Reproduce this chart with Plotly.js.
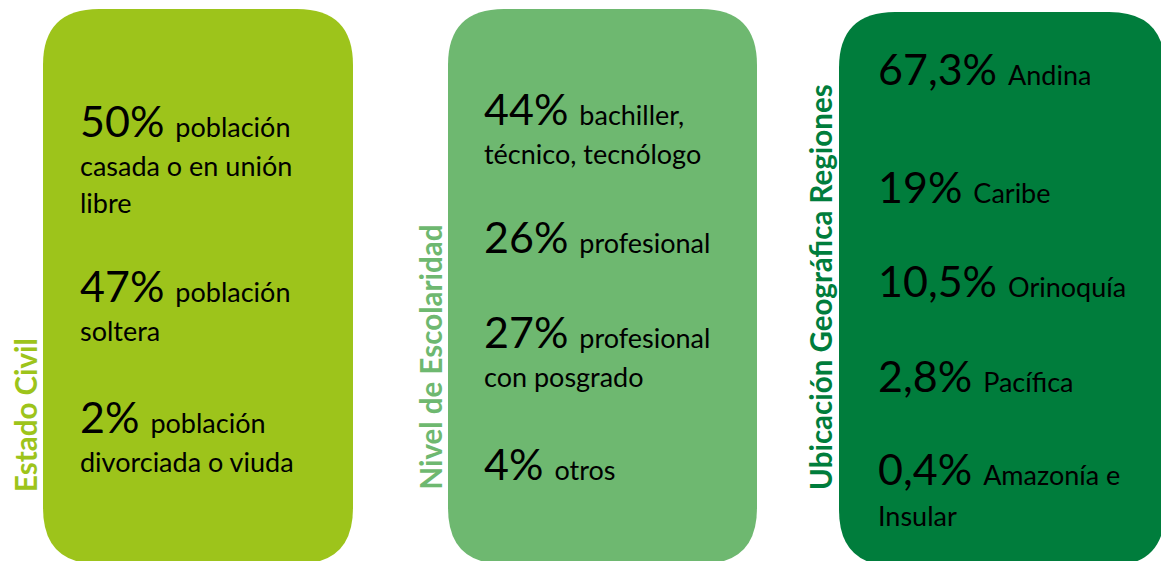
<!DOCTYPE html>
<html>
<head>
<meta charset="utf-8">
<script src="https://cdn.plot.ly/plotly-3.0.1.min.js"></script>
<style>html,body{margin:0;padding:0;background:#fff;}#chart{width:1161px;height:561px;}</style>
</head>
<body>
<div id="chart"></div>
<script>
// ---- DATA ----
const panelTitles = ['Estado Civil', 'Nivel de Escolaridad', 'Ubicación Geográfica Regiones'];

const civilPct = ['50%', '47%', '2%'];
const civilLines = [['población', 'casada o en unión', 'libre'], ['población', 'soltera'], ['población', 'divorciada o viuda']];

const escolaridadPct = ['44%', '26%', '27%', '4%'];
const escolaridadLines = [['bachiller,', 'técnico, tecnólogo'], ['profesional'], ['profesional', 'con posgrado'], ['otros']];

const regionPct = ['67,3%', '19%', '10,5%', '2,8%', '0,4%'];
const regionLines = [['Andina'], ['Caribe'], ['Orinoquía'], ['Pacífica'], ['Amazonía e', 'Insular']];

// ---- LAYOUT / STYLE ----
const W = 1161, H = 561;
const FONT = 'Lato, "Open Sans", sans-serif';
const BIG = 43, SMALL = 27, TITLE = 29.5;
const colors = ['#9DC41B', '#6EB870', '#007D3C'];
const boxes = [
  {x0: 43, x1: 353, y0: 9, y1: 564, r: 56},
  {x0: 448, x1: 757, y0: 9, y1: 564, r: 56},
  {x0: 839, x1: 1165, y0: 12, y1: 566, r: 56}
];
const textX = [79, 483, 877];
const groupY = [[137, 302, 433], [125, 253, 348, 480], [85, 203, 297, 392, 485]];
const lineGap = [[40, 37], [40], [42]];
const titlePos = [{x: 25, y: 493}, {x: 430, y: 491}, {x: 820, y: 491}];
const bigDesc = 0.23, smallDesc = 0.23;

function roundRect(b) {
  const {x0, x1, y0, y1, r} = b;
  return `M ${x0 + r} ${y0} L ${x1 - r} ${y0} Q ${x1} ${y0} ${x1} ${y0 + r} ` +
    `L ${x1} ${y1 - r} Q ${x1} ${y1} ${x1 - r} ${y1} L ${x0 + r} ${y1} ` +
    `Q ${x0} ${y1} ${x0} ${y1 - r} L ${x0} ${y0 + r} Q ${x0} ${y0} ${x0 + r} ${y0} Z`;
}

const shapes = boxes.map((b, i) => ({
  type: 'path', xref: 'x', yref: 'y', path: roundRect(b),
  fillcolor: colors[i], line: {width: 0}, layer: 'below'
}));

const annotations = [];
const panels = [[civilPct, civilLines], [escolaridadPct, escolaridadLines], [regionPct, regionLines]];
panels.forEach(([pcts, lines], p) => {
  pcts.forEach((pct, g) => {
    const base = groupY[p][g];
    lines[g].forEach((ln, k) => {
      let txt, yb;
      if (k === 0) {
        txt = `<span style="font-size:${BIG}px">${pct}\u00A0</span>${ln}`;
        yb = base + BIG * bigDesc;
      } else {
        let gaps = lineGap[p];
        let off = 0;
        for (let j = 0; j < k; j++) off += (gaps[j] !== undefined ? gaps[j] : gaps[gaps.length - 1]);
        txt = ln;
        yb = base + off + SMALL * smallDesc;
      }
      annotations.push({
        x: textX[p], y: yb, xref: 'x', yref: 'y', text: txt, showarrow: false,
        xanchor: 'left', yanchor: 'bottom', borderpad: 0,
        font: {family: FONT, size: SMALL, color: '#000'}
      });
    });
  });
  annotations.push({
    x: titlePos[p].x, y: titlePos[p].y, xref: 'x', yref: 'y',
    text: '<b>' + panelTitles[p] + '</b>', showarrow: false, textangle: -90,
    xanchor: 'center', yanchor: 'bottom', borderpad: 0,
    font: {family: FONT, size: TITLE, color: colors[p]}
  });
});

const layout = {
  width: W, height: H, margin: {l: 0, r: 0, t: 0, b: 0},
  paper_bgcolor: '#fff', plot_bgcolor: '#fff', showlegend: false,
  xaxis: {range: [0, W], visible: false, fixedrange: true},
  yaxis: {range: [H, 0], visible: false, fixedrange: true},
  shapes, annotations
};

Plotly.newPlot('chart', [], layout, {displayModeBar: false, staticPlot: true});
</script>
</body>
</html>
